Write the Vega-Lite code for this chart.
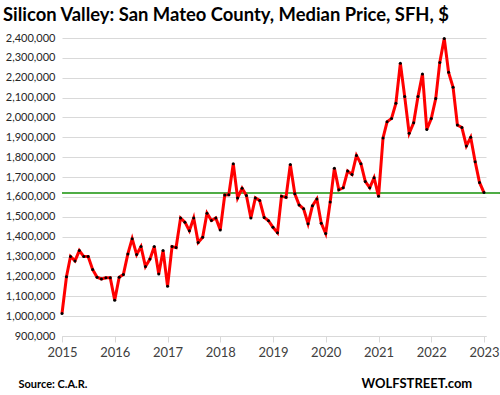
{
  "$schema": "https://vega.github.io/schema/vega-lite/v6.json",
  "width": 424,
  "height": 298,
  "autosize": {"type": "none"},
  "padding": {"left": 62, "top": 38, "right": 14, "bottom": 59},
  "background": "white",
  "config": {
    "view": {"stroke": null},
    "font": "Lato"
  },
  "title": {
    "text": "Silicon Valley: San Mateo County, Median Price, SFH, $",
    "anchor": "start",
    "frame": "group",
    "dx": -59,
    "offset": 8,
    "font": "Lato",
    "fontSize": 18.4,
    "fontWeight": "bold",
    "color": "#000000"
  },
  "data": {
    "format": {"parse": {"date": "date:'%Y-%m'"}},
    "values": [
      {"date": "2015-01", "price": 1013000},
      {"date": "2015-02", "price": 1198000},
      {"date": "2015-03", "price": 1300000},
      {"date": "2015-04", "price": 1278000},
      {"date": "2015-05", "price": 1330000},
      {"date": "2015-06", "price": 1300000},
      {"date": "2015-07", "price": 1300000},
      {"date": "2015-08", "price": 1235000},
      {"date": "2015-09", "price": 1196000},
      {"date": "2015-10", "price": 1187000},
      {"date": "2015-11", "price": 1193000},
      {"date": "2015-12", "price": 1193000},
      {"date": "2016-01", "price": 1080000},
      {"date": "2016-02", "price": 1196000},
      {"date": "2016-03", "price": 1209000},
      {"date": "2016-04", "price": 1313000},
      {"date": "2016-05", "price": 1390000},
      {"date": "2016-06", "price": 1310000},
      {"date": "2016-07", "price": 1350000},
      {"date": "2016-08", "price": 1250000},
      {"date": "2016-09", "price": 1287000},
      {"date": "2016-10", "price": 1350000},
      {"date": "2016-11", "price": 1212000},
      {"date": "2016-12", "price": 1330000},
      {"date": "2017-01", "price": 1150000},
      {"date": "2017-02", "price": 1350000},
      {"date": "2017-03", "price": 1345000},
      {"date": "2017-04", "price": 1494000},
      {"date": "2017-05", "price": 1473000},
      {"date": "2017-06", "price": 1430000},
      {"date": "2017-07", "price": 1494000},
      {"date": "2017-08", "price": 1371000},
      {"date": "2017-09", "price": 1397000},
      {"date": "2017-10", "price": 1518000},
      {"date": "2017-11", "price": 1481000},
      {"date": "2017-12", "price": 1494000},
      {"date": "2018-01", "price": 1434000},
      {"date": "2018-02", "price": 1610000},
      {"date": "2018-03", "price": 1611000},
      {"date": "2018-04", "price": 1767000},
      {"date": "2018-05", "price": 1595000},
      {"date": "2018-06", "price": 1644000},
      {"date": "2018-07", "price": 1607000},
      {"date": "2018-08", "price": 1494000},
      {"date": "2018-09", "price": 1595000},
      {"date": "2018-10", "price": 1582000},
      {"date": "2018-11", "price": 1497000},
      {"date": "2018-12", "price": 1480000},
      {"date": "2019-01", "price": 1447000},
      {"date": "2019-02", "price": 1420000},
      {"date": "2019-03", "price": 1604000},
      {"date": "2019-04", "price": 1598000},
      {"date": "2019-05", "price": 1763000},
      {"date": "2019-06", "price": 1616000},
      {"date": "2019-07", "price": 1560000},
      {"date": "2019-08", "price": 1540000},
      {"date": "2019-09", "price": 1465000},
      {"date": "2019-10", "price": 1555000},
      {"date": "2019-11", "price": 1590000},
      {"date": "2019-12", "price": 1468000},
      {"date": "2020-01", "price": 1416000},
      {"date": "2020-02", "price": 1574000},
      {"date": "2020-03", "price": 1745000},
      {"date": "2020-04", "price": 1636000},
      {"date": "2020-05", "price": 1646000},
      {"date": "2020-06", "price": 1730000},
      {"date": "2020-07", "price": 1713000},
      {"date": "2020-08", "price": 1809000},
      {"date": "2020-09", "price": 1767000},
      {"date": "2020-10", "price": 1678000},
      {"date": "2020-11", "price": 1646000},
      {"date": "2020-12", "price": 1697000},
      {"date": "2021-01", "price": 1603000},
      {"date": "2021-02", "price": 1897000},
      {"date": "2021-03", "price": 1978000},
      {"date": "2021-04", "price": 1995000},
      {"date": "2021-05", "price": 2071000},
      {"date": "2021-06", "price": 2273000},
      {"date": "2021-07", "price": 2105000},
      {"date": "2021-08", "price": 1920000},
      {"date": "2021-09", "price": 1973000},
      {"date": "2021-10", "price": 2105000},
      {"date": "2021-11", "price": 2219000},
      {"date": "2021-12", "price": 1940000},
      {"date": "2022-01", "price": 1995000},
      {"date": "2022-02", "price": 2095000},
      {"date": "2022-03", "price": 2277000},
      {"date": "2022-04", "price": 2398000},
      {"date": "2022-05", "price": 2227000},
      {"date": "2022-06", "price": 2152000},
      {"date": "2022-07", "price": 1962000},
      {"date": "2022-08", "price": 1950000},
      {"date": "2022-09", "price": 1857000},
      {"date": "2022-10", "price": 1900000},
      {"date": "2022-11", "price": 1777000},
      {"date": "2022-12", "price": 1673000},
      {"date": "2023-01", "price": 1622000}
    ]
  },
  "encoding": {
    "x": {
      "field": "date",
      "type": "temporal",
      "scale": {"domain": [{"year": 2015, "month": 1, "date": 1}, {"year": 2023, "month": 1, "date": 15}]},
      "axis": {
        "values": [
          {"year": 2015, "month": 1, "date": 1},
          {"year": 2016, "month": 1, "date": 1},
          {"year": 2017, "month": 1, "date": 1},
          {"year": 2018, "month": 1, "date": 1},
          {"year": 2019, "month": 1, "date": 1},
          {"year": 2020, "month": 1, "date": 1},
          {"year": 2021, "month": 1, "date": 1},
          {"year": 2022, "month": 1, "date": 1},
          {"year": 2023, "month": 1, "date": 1}
        ],
        "format": "%Y",
        "grid": false,
        "domainColor": "#d9d9d9",
        "tickColor": "#d9d9d9",
        "tickSize": 6,
        "labelPadding": 4,
        "labelFontSize": 13,
        "labelColor": "#404040",
        "labelFont": "Lato",
        "labelFlush": false,
        "title": "Source: C.A.R.",
        "titleFont": "Lato",
        "titleFontSize": 11,
        "titleFontWeight": "bold",
        "titleColor": "#000000",
        "titleAnchor": "start",
        "titleAlign": "left",
        "titleBaseline": "alphabetic",
        "titleX": -44,
        "titleY": 51
      }
    },
    "y": {
      "field": "price",
      "type": "quantitative",
      "scale": {"domain": [900000, 2400000], "nice": false, "zero": false},
      "axis": {
        "values": [900000, 1000000, 1100000, 1200000, 1300000, 1400000, 1500000, 1600000, 1700000, 1800000, 1900000, 2000000, 2100000, 2200000, 2300000, 2400000],
        "format": ",d",
        "grid": true,
        "gridColor": "#d9d9d9",
        "gridWidth": 1,
        "domain": false,
        "ticks": false,
        "labelPadding": 7,
        "labelFontSize": 11,
        "labelColor": "#262626",
        "labelFont": "Lato",
        "title": "WOLFSTREET.com",
        "titleFont": "Lato",
        "titleFontSize": 13,
        "titleFontWeight": "bold",
        "titleColor": "#000000",
        "titleAngle": 0,
        "titleAlign": "left",
        "titleBaseline": "alphabetic",
        "titleX": 299,
        "titleY": 349
      }
    }
  },
  "layer": [
    {
      "mark": {"type": "rule", "color": "#4ea94b", "strokeWidth": 1},
      "encoding": {
        "x": {"datum": {"year": 2015, "month": 1, "date": 1}, "type": "temporal"},
        "x2": {"datum": {"year": 2023, "month": 4, "date": 20}},
        "y": {"datum": 1622000, "type": "quantitative"}
      }
    },
    {
      "mark": {"type": "line", "color": "#ff0000", "strokeWidth": 3}
    },
    {
      "mark": {"type": "point", "filled": true, "color": "#000000", "size": 9, "opacity": 1}
    }
  ]
}
